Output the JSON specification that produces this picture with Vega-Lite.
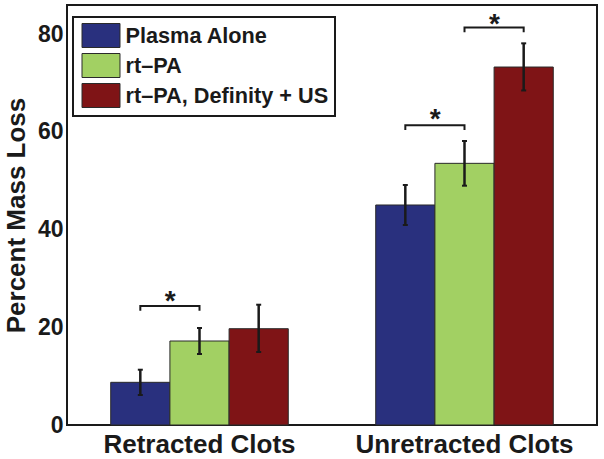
{
  "$schema": "https://vega.github.io/schema/vega-lite/v6.json",
  "width": 530,
  "height": 420,
  "autosize": {"type": "none"},
  "padding": {"left": 67, "top": 5, "right": 7, "bottom": 34},
  "background": "white",
  "config": {
    "view": {"stroke": "#1a1a1a", "strokeWidth": 2},
    "font": "Liberation Sans"
  },
  "datasets": {
    "bars": [
      {"group": "Retracted Clots", "series": "Plasma Alone", "mean": 8.74, "lo": 6.14, "hi": 11.32},
      {"group": "Retracted Clots", "series": "rt–PA", "mean": 17.2, "lo": 14.54, "hi": 19.86},
      {"group": "Retracted Clots", "series": "rt–PA, Definity + US", "mean": 19.72, "lo": 14.95, "hi": 24.63},
      {"group": "Unretracted Clots", "series": "Plasma Alone", "mean": 45.05, "lo": 40.95, "hi": 49.14},
      {"group": "Unretracted Clots", "series": "rt–PA", "mean": 53.58, "lo": 49.0, "hi": 58.15},
      {"group": "Unretracted Clots", "series": "rt–PA, Definity + US", "mean": 73.3, "lo": 68.5, "hi": 78.15}
    ],
    "brackets": [
      {"id": "b1", "group": "Retracted Clots", "series": "Plasma Alone", "v": 23.4, "o": 1},
      {"id": "b1", "group": "Retracted Clots", "series": "Plasma Alone", "v": 24.37, "o": 2},
      {"id": "b1", "group": "Retracted Clots", "series": "rt–PA", "v": 24.37, "o": 3},
      {"id": "b1", "group": "Retracted Clots", "series": "rt–PA", "v": 23.4, "o": 4},
      {"id": "b2", "group": "Unretracted Clots", "series": "Plasma Alone", "v": 60.4, "o": 1},
      {"id": "b2", "group": "Unretracted Clots", "series": "Plasma Alone", "v": 61.4, "o": 2},
      {"id": "b2", "group": "Unretracted Clots", "series": "rt–PA", "v": 61.4, "o": 3},
      {"id": "b2", "group": "Unretracted Clots", "series": "rt–PA", "v": 60.4, "o": 4},
      {"id": "b3", "group": "Unretracted Clots", "series": "rt–PA", "v": 80.4, "o": 1},
      {"id": "b3", "group": "Unretracted Clots", "series": "rt–PA", "v": 81.4, "o": 2},
      {"id": "b3", "group": "Unretracted Clots", "series": "rt–PA, Definity + US", "v": 81.4, "o": 3},
      {"id": "b3", "group": "Unretracted Clots", "series": "rt–PA, Definity + US", "v": 80.4, "o": 4}
    ],
    "stars": [
      {"group": "Retracted Clots", "series": "rt–PA", "v": 25.2, "label": "*"},
      {"group": "Unretracted Clots", "series": "rt–PA", "v": 62.4, "label": "*"},
      {"group": "Unretracted Clots", "series": "rt–PA, Definity + US", "v": 81.9, "label": "*"}
    ]
  },
  "layer": [
    {
      "data": {"name": "bars"},
      "mark": {"type": "bar", "stroke": "#2a2a2a", "strokeWidth": 1},
      "encoding": {
        "x": {
          "field": "group", "type": "nominal",
          "scale": {"paddingInner": 0.33, "paddingOuter": 0.165},
          "axis": {
            "title": null, "labelAngle": 0, "ticks": false, "domain": false,
            "labelFontSize": 26, "labelFontWeight": "bold", "labelColor": "#1a1a1a",
            "labelPadding": 6, "labelLimit": 0
          }
        },
        "xOffset": {
          "field": "series", "type": "nominal",
          "scale": {"domain": ["Plasma Alone", "rt–PA", "rt–PA, Definity + US"], "paddingInner": 0, "paddingOuter": 0}
        },
        "y": {
          "field": "mean", "type": "quantitative",
          "scale": {"domain": [0, 86], "nice": false, "zero": true},
          "axis": {
            "title": "Percent Mass Loss", "titleFontSize": 26, "titleFontWeight": "bold", "titleColor": "#1a1a1a",
            "titlePadding": 8,
            "values": [0, 20, 40, 60, 80], "grid": false, "ticks": false, "domain": false,
            "labelFontSize": 23, "labelFontWeight": "bold", "labelColor": "#1a1a1a", "labelPadding": 4
          }
        },
        "color": {
          "field": "series", "type": "nominal",
          "scale": {
            "domain": ["Plasma Alone", "rt–PA", "rt–PA, Definity + US"],
            "range": ["#29307e", "#a2d063", "#7f1416"]
          },
          "legend": {
            "title": null, "orient": "none", "legendX": 6, "legendY": 12,
            "strokeColor": "#1a1a1a", "padding": 6, "rowPadding": 1,
            "symbolType": "M-1.583,-1H1.583V1H-1.583Z", "symbolSize": 576,
            "symbolStrokeColor": "#2a2a2a", "symbolStrokeWidth": 1, "symbolOpacity": 1,
            "symbolOffset": 9.5, "labelOffset": 12, "labelLimit": 0,
            "labelFontSize": 21.7, "labelFontWeight": "bold", "labelColor": "#1a1a1a",
            "fillColor": "white",
            "encode": {"legend": {"update": {"strokeWidth": {"value": 2}}}}
          }
        }
      }
    },
    {
      "data": {"name": "bars"},
      "mark": {"type": "rule", "strokeWidth": 2.5, "color": "#1a1a1a"},
      "encoding": {
        "x": {"field": "group", "type": "nominal"},
        "xOffset": {"field": "series", "type": "nominal"},
        "y": {"field": "lo", "type": "quantitative"},
        "y2": {"field": "hi"}
      }
    },
    {
      "data": {"name": "bars"},
      "mark": {"type": "tick", "size": 5, "thickness": 2, "color": "#1a1a1a", "opacity": 1},
      "encoding": {
        "x": {"field": "group", "type": "nominal"},
        "xOffset": {"field": "series", "type": "nominal"},
        "y": {"field": "lo", "type": "quantitative"}
      }
    },
    {
      "data": {"name": "bars"},
      "mark": {"type": "tick", "size": 5, "thickness": 2, "color": "#1a1a1a", "opacity": 1},
      "encoding": {
        "x": {"field": "group", "type": "nominal"},
        "xOffset": {"field": "series", "type": "nominal"},
        "y": {"field": "hi", "type": "quantitative"}
      }
    },
    {
      "data": {"name": "brackets"},
      "mark": {"type": "line", "strokeWidth": 2, "color": "#1a1a1a"},
      "encoding": {
        "x": {"field": "group", "type": "nominal"},
        "xOffset": {"field": "series", "type": "nominal"},
        "y": {"field": "v", "type": "quantitative"},
        "detail": {"field": "id"},
        "order": {"field": "o", "type": "quantitative"}
      }
    },
    {
      "data": {"name": "stars"},
      "mark": {"type": "text", "fontSize": 28, "fontWeight": "bold", "color": "#1a1a1a", "baseline": "middle", "align": "center", "dx": -29.3},
      "encoding": {
        "x": {"field": "group", "type": "nominal"},
        "xOffset": {"field": "series", "type": "nominal"},
        "y": {"field": "v", "type": "quantitative"},
        "text": {"field": "label"}
      }
    }
  ]
}
